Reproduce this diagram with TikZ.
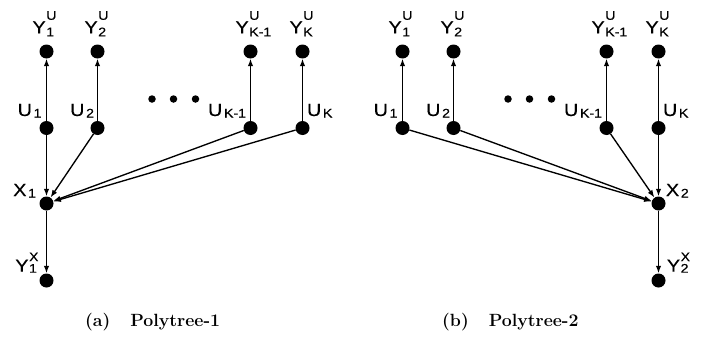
\documentclass[tikz,border=0pt]{standalone}
\usepackage{fontspec}
\usepackage{graphicx}
\newfontfamily\lblfont[FakeBold=0.3]{Liberation Sans}
\usetikzlibrary{arrows.meta}
\newcommand\mainsz{\fontsize{17.5}{17.5}\selectfont}
\newcommand\smsz{\fontsize{12.5}{12.5}\selectfont}
\newcommand\wideit[1]{\scalebox{1.13}[1]{#1}}
\newcommand\yu[1]{\wideit{\lblfont\mainsz Y\kern0.5pt\smsz\rlap{\raisebox{13.5pt}{U}}\raisebox{-3pt}{#1}}}
\newcommand\yx[1]{\wideit{\lblfont\mainsz Y\kern0.5pt\smsz\rlap{\raisebox{-1pt}{#1}}\raisebox{10.5pt}{X}}}
\newcommand\lsub[2]{\wideit{\lblfont\mainsz #1\kern1.5pt\smsz\raisebox{-1.5pt}{#2}}}
\begin{document}
\begin{tikzpicture}[x=1pt,y=-1pt,
  dot/.style={circle,fill=black,inner sep=0pt,minimum size=14pt},
  edot/.style={circle,fill=black,inner sep=0pt,minimum size=7.5pt},
  lbl/.style={inner sep=0pt,outer sep=0pt},
  arr/.style={-{Latex[length=7.5pt,width=5.5pt]},line width=1.35pt},
  captxt/.style={inner sep=0pt,font=\fontsize{17.7}{18}\selectfont\bfseries,anchor=base west}]
\useasboundingbox (0,0) rectangle (703,340);
% ---------- panel (a)
\node[dot] (ay1) at (46.5,51.5) {};
\node[dot] (ay2) at (97.5,51.5) {};
\node[dot] (ayk1) at (250.5,51.5) {};
\node[dot] (ayk) at (302.5,51.5) {};
\node[dot] (au1) at (46.5,128) {};
\node[dot] (au2) at (97.5,128) {};
\node[dot] (auk1) at (250.5,128) {};
\node[dot] (auk) at (302.5,128) {};
\node[dot] (ax) at (46.5,203.5) {};
\node[dot] (ayx) at (46.5,280.5) {};
\node[edot] (ae1) at (152,99) {};
\node[edot] (ae2) at (173.5,99) {};
\node[edot] (ae3) at (195.5,99) {};
\draw[arr] (au1) -- (ay1);
\draw[arr] (au2) -- (ay2);
\draw[arr] (auk1) -- (ayk1);
\draw[arr] (auk) -- (ayk);
\draw[arr] (au1) -- (ax);
\draw[arr] (au2) -- (ax);
\draw[arr] (auk1) -- (ax);
\draw[arr] (auk) -- (ax);
\draw[arr] (ax) -- (ayx);
\node[lbl,anchor=base west] (lay1) at ([shift={(-14,-18.2)}]ay1) {\yu{1}};
\node[lbl,anchor=base west] (lay2) at ([shift={(-13,-18.2)}]ay2) {\yu{2}};
\node[lbl,anchor=base west] (layk1) at ([shift={(-15,-18.2)}]ayk1) {\yu{K-1}};
\node[lbl,anchor=base west] (layk) at ([shift={(-13,-18.2)}]ayk) {\yu{K}};
\node[lbl,anchor=base east] (lau1) at ([shift={(-5,-12)}]au1) {\lsub{U}{1}};
\node[lbl,anchor=base east] (lau2) at ([shift={(-3.5,-12)}]au2) {\lsub{U}{2}};
\node[lbl,anchor=base east] (lauk1) at ([shift={(-4.5,-12)}]auk1) {\lsub{U}{K-1}};
\node[lbl,anchor=base west] (lauk) at ([shift={(4.5,-12)}]auk) {\lsub{U}{K}};
\node[lbl,anchor=base east] (lax) at ([shift={(-10.5,-7.5)}]ax) {\lsub{X}{1}};
\node[lbl,anchor=base east] (layx) at ([shift={(-8,-8.8)}]ayx) {\yx{1}};
\node[captxt] (capa) at (85,326) {(a)\hspace{20pt}Polytree-1};
% ---------- panel (b)
\node[dot] (by1) at (402.5,51.5) {};
\node[dot] (by2) at (453.5,51.5) {};
\node[dot] (byk1) at (606.5,51.5) {};
\node[dot] (byk) at (658.5,51.5) {};
\node[dot] (bu1) at (402.5,128) {};
\node[dot] (bu2) at (453.5,128) {};
\node[dot] (buk1) at (606.5,128) {};
\node[dot] (buk) at (658.5,128) {};
\node[dot] (bx) at (658.5,203.5) {};
\node[dot] (byx) at (658.5,280.5) {};
\node[edot] (be1) at (508,99) {};
\node[edot] (be2) at (529.5,99) {};
\node[edot] (be3) at (551.5,99) {};
\draw[arr] (bu1) -- (by1);
\draw[arr] (bu2) -- (by2);
\draw[arr] (buk1) -- (byk1);
\draw[arr] (buk) -- (byk);
\draw[arr] (bu1) -- (bx);
\draw[arr] (bu2) -- (bx);
\draw[arr] (buk1) -- (bx);
\draw[arr] (buk) -- (bx);
\draw[arr] (bx) -- (byx);
\node[lbl,anchor=base west] (lby1) at ([shift={(-14,-18.2)}]by1) {\yu{1}};
\node[lbl,anchor=base west] (lby2) at ([shift={(-13,-18.2)}]by2) {\yu{2}};
\node[lbl,anchor=base west] (lbyk1) at ([shift={(-15,-18.2)}]byk1) {\yu{K-1}};
\node[lbl,anchor=base west] (lbyk) at ([shift={(-13,-18.2)}]byk) {\yu{K}};
\node[lbl,anchor=base east] (lbu1) at ([shift={(-5,-12)}]bu1) {\lsub{U}{1}};
\node[lbl,anchor=base east] (lbu2) at ([shift={(-3.5,-12)}]bu2) {\lsub{U}{2}};
\node[lbl,anchor=base east] (lbuk1) at ([shift={(-4.5,-12)}]buk1) {\lsub{U}{K-1}};
\node[lbl,anchor=base west] (lbuk) at ([shift={(4.5,-12)}]buk) {\lsub{U}{K}};
\node[lbl,anchor=base west] (lbx) at ([shift={(7.5,-7.5)}]bx) {\lsub{X}{2}};
\node[lbl,anchor=base west] (lbyx) at ([shift={(8.4,-8.8)}]byx) {\yx{2}};
\node[captxt] (capb) at (442,326) {(b)\hspace{20pt}Polytree-2};
\end{tikzpicture}
\end{document}
